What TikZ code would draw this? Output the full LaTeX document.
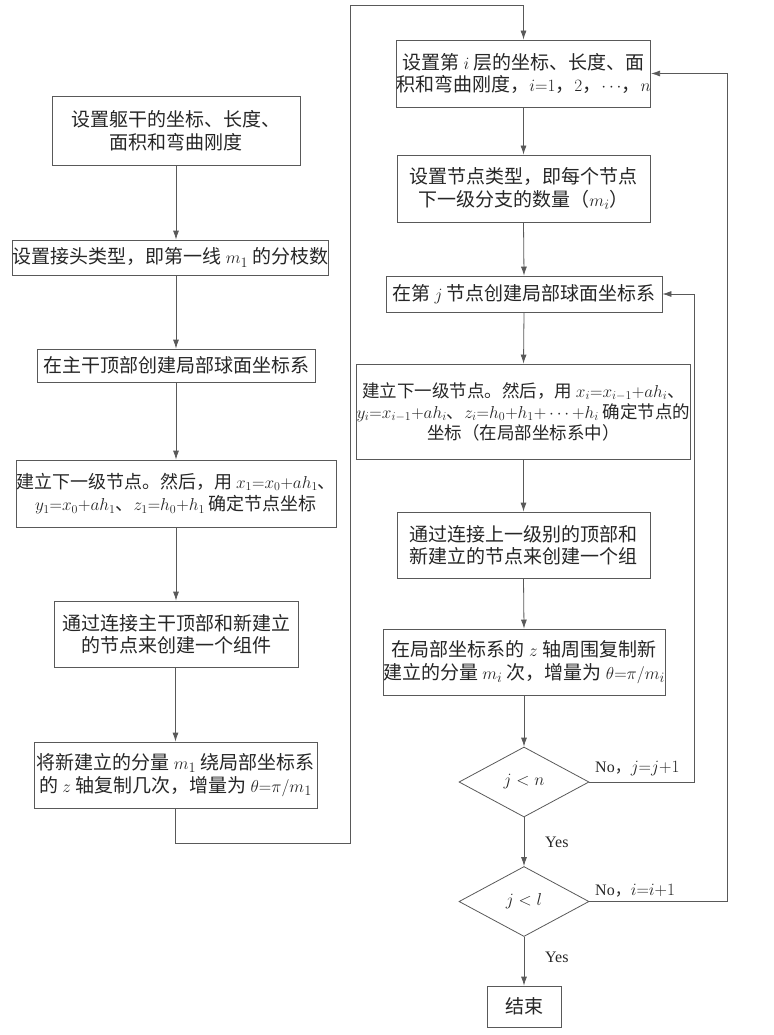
\documentclass[tikz,border=0pt]{standalone}
\usepackage{fontspec}
\setmainfont{Liberation Serif}
\newfontfamily\cjk{Noto Sans CJK SC}
\usetikzlibrary{arrows.meta,shapes.geometric,positioning}

\tikzset{
	box/.style={draw=black!65,line width=0.8pt,align=center,inner sep=0pt,text=black!85,font=\cjk\fontsize{19}{22.5}\selectfont},
	decision/.style={diamond,draw=black!65,line width=0.8pt,inner sep=0pt,minimum width=130pt,minimum height=70pt,text=black!85,font=\fontsize{17}{20}\selectfont},
	flow/.style={draw=black!65,line width=0.8pt,-{Latex[length=9pt,width=6pt]}},
	lbl/.style={anchor=west,inner sep=0pt,text=black!85,font=\fontsize{16}{19}\selectfont}
}

\begin{document}
\begin{tikzpicture}[x=1pt,y=-1pt]
	\useasboundingbox (0,0) rectangle (773,1035);
	% left column
	\node[box,minimum width=248pt,minimum height=69pt] (trunk) at (176,130.5) {设置躯干的坐标、长度、\\面积和弯曲刚度};
	\node[box,minimum width=315pt,minimum height=35pt] (joint) at (170.5,257.5) {设置接头类型，即第一线 $m_1$ 的分枝数};
	\node[box,minimum width=278pt,minimum height=33pt] (topsys) at (176,365.5) {在主干顶部创建局部球面坐标系};
	\node[box,minimum width=308pt,minimum height=67pt,font=\cjk\fontsize{18}{22.5}\selectfont] (nodes1) at (176,493.5) {建立下一级节点。然后，用 $x_1{=}x_0{+}ah_1$、\\$y_1{=}x_0{+}ah_1$、$z_1{=}h_0{+}h_1$ 确定节点坐标};
	\node[box,minimum width=244pt,minimum height=66pt] (group1) at (176,634) {通过连接主干顶部和新建立\\的节点来创建一个组件};
	\node[box,minimum width=283pt,minimum height=66pt] (copy1) at (175.5,775) {将新建立的分量 $m_1$ 绕局部坐标系\\的 $z$ 轴复制几次，增量为 $\theta{=}\pi/m_1$};
	% right column
	\node[box,minimum width=253pt,minimum height=67pt] (layer) at (523.5,73.5) {设置第 $i$ 层的坐标、长度、面\\积和弯曲刚度，$i{=}1$，$2$，$\cdots$，$n$};
	\node[box,minimum width=253pt,minimum height=67pt] (ntype) at (523.5,188.5) {设置节点类型，即每个节点\\下一级分支的数量（$m_i$）};
	\node[box,minimum width=276pt,minimum height=36pt] (sphere) at (524,294) {在第 $j$ 节点创建局部球面坐标系};
	\node[box,minimum width=309pt,minimum height=95pt,font=\cjk\fontsize{17.5}{21}\selectfont] (nodesi) at (523.5,411.5) {建立下一级节点。然后，用 $x_i{=}x_{i-1}{+}ah_i$、\\$y_i{=}x_{i-1}{+}ah_i$、$z_i{=}h_0{+}h_1{+}\cdots{+}h_i$ 确定节点的\\坐标（在局部坐标系中）};
	\node[box,minimum width=253pt,minimum height=66pt] (groupi) at (523.5,545) {通过连接上一级别的顶部和\\新建立的节点来创建一个组};
	\node[box,minimum width=282pt,minimum height=66pt] (copyi) at (524,662) {在局部坐标系的 $z$ 轴周围复制新\\建立的分量 $m_i$ 次，增量为 $\theta{=}\pi/m_i$};
	\node[decision] (dj) at (524,782) {$j<n$};
	\node[decision] (di) at (524,901.5) {$j<l$};
	\node[box,minimum width=74pt,minimum height=41pt] (stop) at (524,1006.5) {结束};
	% labels
	\node[lbl] (noj) at (595,769) {No{\cjk ，}$j{=}j{+}1$};
	\node[lbl] (yesj) at (545,842) {Yes};
	\node[lbl] (noi) at (595,891) {No{\cjk ，}$i{=}i{+}1$};
	\node[lbl] (yesi) at (545,957) {Yes};
	% turning points
	\coordinate (turnA) at (350,843);
	\coordinate (turnB) at (350,5);
	\coordinate (backj) at (694,0);
	\coordinate (backi) at (727,0);
	% connectors
	\draw[flow] (trunk.south) -- (trunk.south |- joint.north);
	\draw[flow] (trunk.south |- joint.south) -- (topsys.north);
	\draw[flow] (topsys.south) -- (nodes1.north);
	\draw[flow] (nodes1.south) -- (group1.north);
	\draw[flow] (group1.south) -- (copy1.south |- group1.south) -- (copy1.north);
	\draw[flow] (copy1.south) |- (turnA) -- (turnB) -| (layer.north);
	\draw[flow] (layer.south) -- (ntype.north);
	\draw[flow] (ntype.south) -- (sphere.north);
	\draw[flow] (sphere.south) -- (nodesi.north);
	\draw[flow] (nodesi.south) -- (groupi.north);
	\draw[flow] (groupi.south) -- (copyi.north);
	\draw[flow] (copyi.south) -- (dj.north);
	\draw[flow] (dj.south) -- (di.north);
	\draw[flow] (di.south) -- (stop.north);
	\draw[flow] (dj.east) -- (dj.east -| backj) |- (sphere.east);
	\draw[flow] (di.east) -- (di.east -| backi) |- (layer.east);
\end{tikzpicture}
\end{document}
